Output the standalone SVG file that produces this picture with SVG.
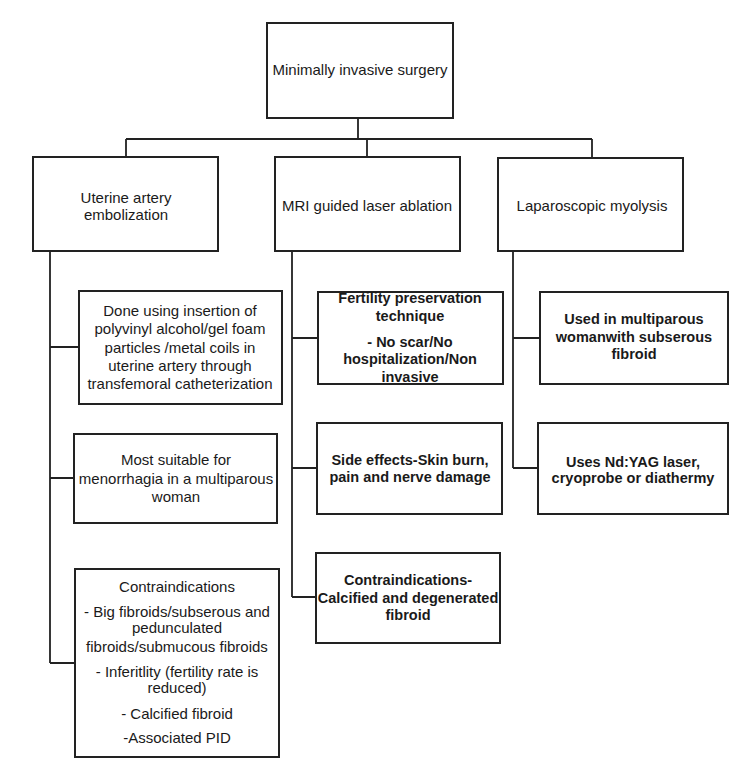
<svg xmlns="http://www.w3.org/2000/svg" width="745" height="763" viewBox="0 0 745 763">
<style>
.box{fill:#fff;stroke:#222;stroke-width:2}
.t{font-family:"Liberation Sans",Arial,sans-serif;font-size:15px;fill:#1a1a1a;text-anchor:middle}
.b{font-weight:bold;font-size:14.5px}
.c{fill:none;stroke:#222;stroke-width:1.8}
</style>
<rect width="745" height="763" fill="#fff"/>
<g id="connectors">
<path class="c" d="M358 118V139M126 139H592M126 139V157M367 139V157M592 139V157"/>
<path class="c" d="M50 251V663M50 347H79M50 478H74M50 663H75"/>
<path class="c" d="M292 251V597M292 338H318M292 468H317M292 597H316"/>
<path class="c" d="M513 251V468M513 338H540M513 468H538"/>
</g>
<g id="root">
<rect class="box" x="267" y="23" width="186" height="95"/>
<text class="t" x="360" y="75">Minimally invasive surgery</text>
</g>
<g id="uae">
<rect class="box" x="33" y="157" width="185" height="94"/>
<text class="t" x="126" y="203">Uterine artery</text>
<text class="t" x="126" y="220">embolization</text>
</g>
<g id="mri">
<rect class="box" x="275" y="157" width="185" height="94"/>
<text class="t" x="367" y="211">MRI guided laser ablation</text>
</g>
<g id="lap">
<rect class="box" x="498" y="158" width="185" height="93"/>
<text class="t" x="592" y="211">Laparoscopic myolysis</text>
</g>
<g id="uae-done">
<rect class="box" x="79" y="291" width="203" height="113"/>
<text class="t" x="180" y="316">Done using insertion of</text>
<text class="t" x="180" y="334">polyvinyl alcohol/gel foam</text>
<text class="t" x="180" y="353">particles /metal coils in</text>
<text class="t" x="180" y="371">uterine artery through</text>
<text class="t" x="180" y="389">transfemoral catheterization</text>
</g>
<g id="uae-suitable">
<rect class="box" x="74" y="434" width="203" height="89"/>
<text class="t" x="176" y="465">Most suitable for</text>
<text class="t" x="176" y="484">menorrhagia in a multiparous</text>
<text class="t" x="176" y="502">woman</text>
</g>
<g id="uae-contra">
<rect class="box" x="75" y="569" width="204" height="188"/>
<text class="t" x="177" y="592">Contraindications</text>
<text class="t" x="177" y="617">- Big fibroids/subserous and</text>
<text class="t" x="177" y="633">pedunculated</text>
<text class="t" x="177" y="652">fibroids/submucous fibroids</text>
<text class="t" x="177" y="677">- Inferitlity (fertility rate is</text>
<text class="t" x="177" y="693">reduced)</text>
<text class="t" x="177" y="719">- Calcified fibroid</text>
<text class="t" x="177" y="743">-Associated PID</text>
</g>
<g id="mri-fertility">
<rect class="box" x="318" y="292" width="185" height="92"/>
<text class="t b" x="410" y="303">Fertility preservation</text>
<text class="t b" x="410" y="321">technique</text>
<text class="t b" x="410" y="347">- No scar/No</text>
<text class="t b" x="410" y="364">hospitalization/Non</text>
<text class="t b" x="410" y="382">invasive</text>
</g>
<g id="mri-side">
<rect class="box" x="317" y="423" width="185" height="91"/>
<text class="t b" x="410" y="465">Side effects-Skin burn,</text>
<text class="t b" x="410" y="482">pain and nerve damage</text>
</g>
<g id="mri-contra">
<rect class="box" x="316" y="553" width="184" height="90"/>
<text class="t b" x="408" y="585">Contraindications-</text>
<text class="t b" x="408" y="603">Calcified and degenerated</text>
<text class="t b" x="408" y="620">fibroid</text>
</g>
<g id="lap-used">
<rect class="box" x="540" y="292" width="188" height="92"/>
<text class="t b" x="634" y="324">Used in multiparous</text>
<text class="t b" x="634" y="342">womanwith subserous</text>
<text class="t b" x="634" y="359">fibroid</text>
</g>
<g id="lap-uses">
<rect class="box" x="538" y="423" width="190" height="91"/>
<text class="t b" x="633" y="467">Uses Nd:YAG laser,</text>
<text class="t b" x="633" y="483">cryoprobe or diathermy</text>
</g>
</svg>
